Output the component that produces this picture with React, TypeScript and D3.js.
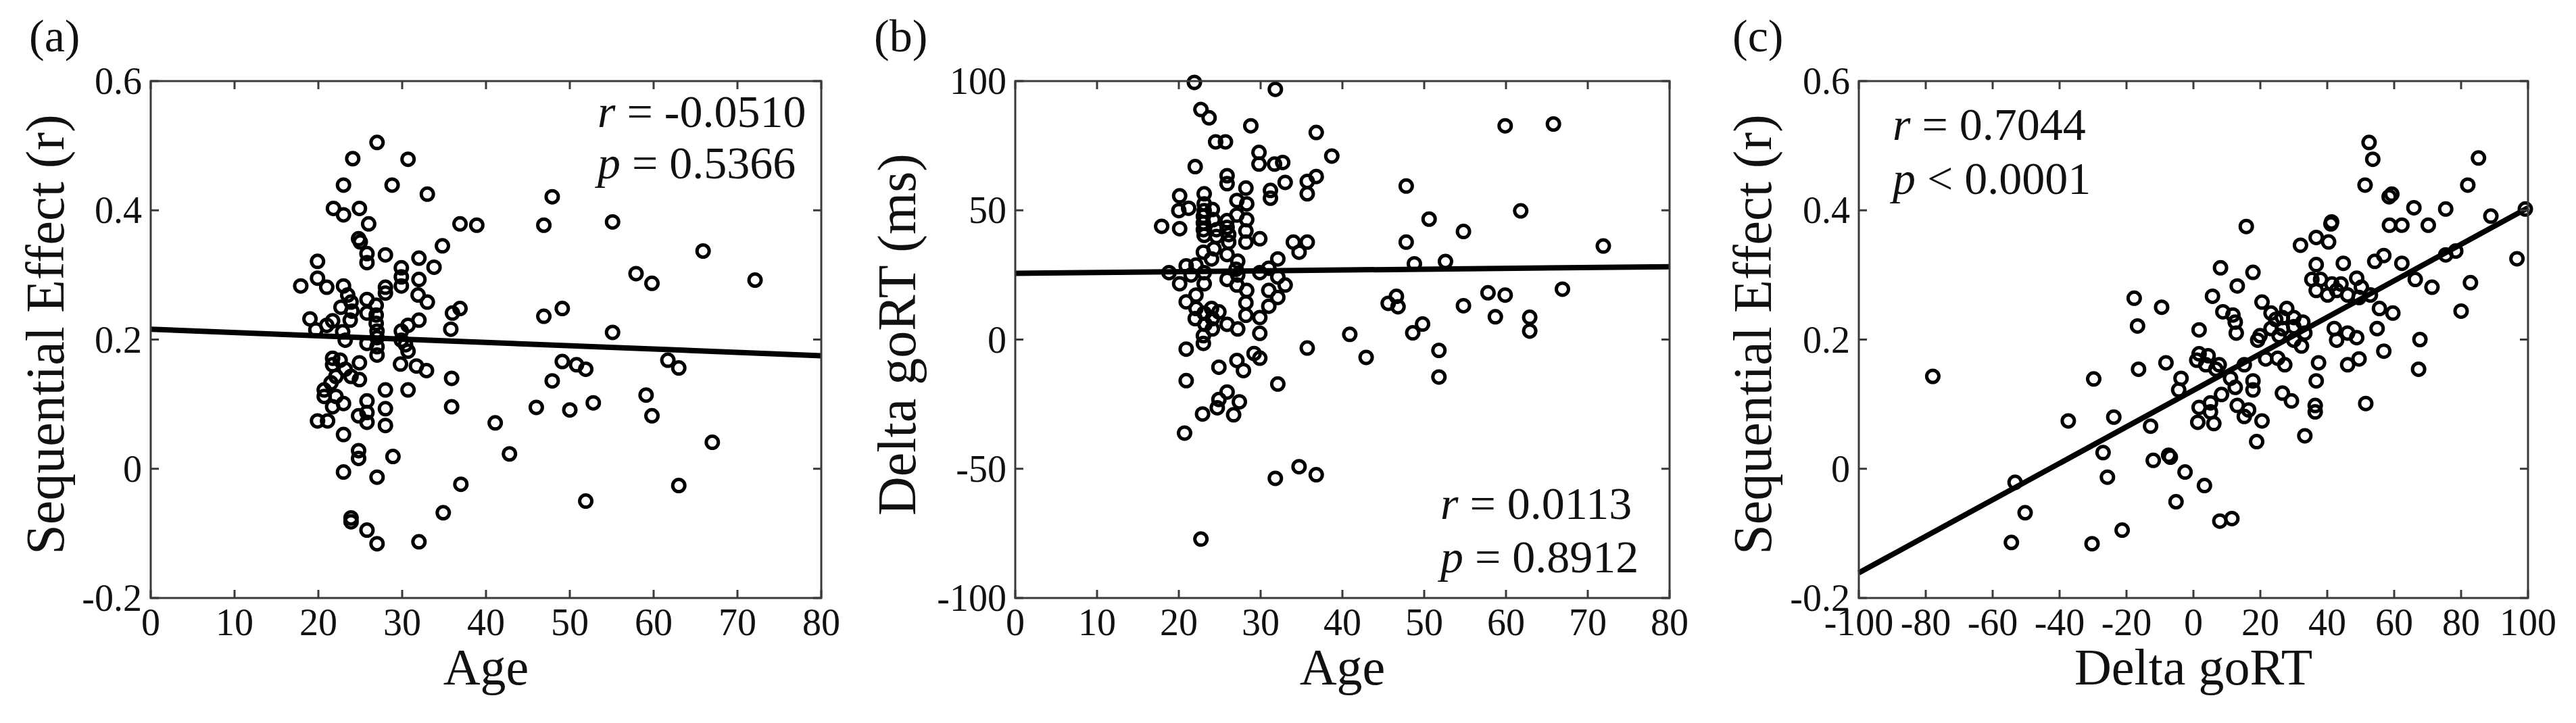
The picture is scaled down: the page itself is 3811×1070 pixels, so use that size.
import * as d3 from "d3";

/* ------------------------------------------------------------------ */
/*  Data                                        */
/* ------------------------------------------------------------------ */

const ageTicks = [0, 10, 20, 30, 40, 50, 60, 70, 80];
const seqTicks = [-0.2, 0, 0.2, 0.4, 0.6];
const rtTicks = [-100, -50, 0, 50, 100];
const rtAxisTicks = [-100, -80, -60, -40, -20, 0, 20, 40, 60, 80, 100];

/** (a) Age vs Sequential Effect (r) */
const ageVsSeq: [number, number][] = [
  [21.8, 0.403], [23.0, 0.393], [24.9, 0.403], [26.0, 0.379], [24.8, 0.356], [25.0, 0.351],
  [25.8, 0.333], [28.0, 0.331], [25.8, 0.319], [36.9, 0.379], [34.8, 0.345], [32.0, 0.326],
  [33.8, 0.312], [19.9, 0.321], [29.9, 0.311], [29.9, 0.297], [29.9, 0.283], [32.0, 0.293],
  [19.9, 0.295], [17.9, 0.283], [21.0, 0.281], [23.0, 0.283], [28.0, 0.281], [28.0, 0.272],
  [31.9, 0.269], [33.0, 0.258], [23.5, 0.269], [23.9, 0.258], [25.8, 0.262], [26.9, 0.253],
  [22.7, 0.25], [24.0, 0.244], [23.8, 0.23], [25.8, 0.241], [26.9, 0.238], [26.9, 0.225],
  [36.0, 0.241], [36.9, 0.248], [35.8, 0.216], [19.0, 0.232], [19.7, 0.215], [21.7, 0.229],
  [21.0, 0.222], [32.0, 0.23], [30.7, 0.222], [29.9, 0.213], [22.9, 0.212], [23.2, 0.199],
  [27.0, 0.213], [27.0, 0.203], [25.8, 0.194], [27.0, 0.189], [29.9, 0.199], [30.4, 0.192],
  [27.0, 0.176], [30.7, 0.182], [21.7, 0.171], [21.7, 0.161], [22.6, 0.168], [23.2, 0.154],
  [24.9, 0.164], [22.1, 0.143], [21.5, 0.133], [23.9, 0.143], [24.9, 0.138], [29.8, 0.162],
  [31.7, 0.159], [32.9, 0.152], [35.9, 0.14], [20.7, 0.122], [20.7, 0.112], [22.1, 0.112],
  [21.7, 0.096], [23.0, 0.101], [28.0, 0.122], [30.7, 0.122], [25.8, 0.105], [25.8, 0.087],
  [24.8, 0.082], [25.8, 0.072], [28.0, 0.093], [28.0, 0.067], [35.9, 0.096], [19.9, 0.074],
  [21.1, 0.074], [23.0, 0.053], [24.8, 0.028], [24.8, 0.016], [28.9, 0.019],
  [27.0, 0.505], [24.1, 0.48], [30.7, 0.479], [23.0, 0.439], [28.8, 0.439], [33.0, 0.425],
  [47.9, 0.421], [55.1, 0.382], [38.9, 0.377], [46.9, 0.377], [65.9, 0.337], [57.9, 0.302],
  [72.1, 0.292], [59.8, 0.287], [49.1, 0.248], [46.9, 0.236], [55.1, 0.211], [61.7, 0.168],
  [49.1, 0.166], [50.8, 0.161], [51.9, 0.154], [63.0, 0.156], [47.9, 0.136], [59.1, 0.114],
  [52.8, 0.102], [46.0, 0.095], [50.0, 0.091], [59.8, 0.082], [41.1, 0.071], [67.0, 0.041],
  [42.8, 0.023], [23.0, -0.005], [27.0, -0.013], [37.0, -0.024], [63.0, -0.026], [51.9, -0.05],
  [34.9, -0.068], [23.9, -0.076], [23.9, -0.082], [25.8, -0.095], [27.0, -0.116], [32.0, -0.113],
];

/** (b) Age vs Delta goRT (ms) */
const ageVsRt: [number, number][] = [
  [22.0, 66.9], [25.9, 63.4], [25.9, 60.3], [28.2, 58.6], [33.0, 60.8], [31.2, 57.7],
  [31.2, 54.7], [20.1, 55.6], [23.1, 56.4], [20.0, 49.9], [21.2, 50.8], [23.1, 52.5],
  [23.1, 49.9], [24.1, 50.3], [27.1, 53.8], [28.3, 52.5], [23.0, 47.7], [23.0, 45.1],
  [24.2, 46.4], [25.9, 46.0], [28.3, 46.4], [27.1, 48.2], [17.9, 43.8], [20.1, 42.9],
  [23.0, 42.5], [24.6, 42.5], [25.9, 43.4], [28.2, 42.0], [23.1, 40.3], [24.6, 39.9],
  [26.1, 40.6], [28.2, 37.7], [29.9, 39.0], [26.1, 37.7], [23.0, 33.8], [24.3, 35.1],
  [25.9, 32.9], [24.0, 31.2], [27.2, 30.3], [34.0, 37.7], [34.7, 33.8], [32.1, 31.2],
  [20.9, 28.5], [22.1, 28.8], [18.8, 25.9], [20.1, 21.6], [21.5, 25.0], [23.1, 25.9],
  [23.1, 21.6], [25.9, 23.3], [27.0, 27.2], [27.2, 25.0], [27.1, 21.1], [29.9, 25.9],
  [31.0, 27.6], [32.1, 24.2], [33.0, 21.1], [31.0, 19.0], [32.1, 16.3], [20.9, 14.6],
  [22.1, 17.2], [22.1, 12.0], [28.3, 19.0], [28.2, 14.2], [28.2, 9.4], [31.0, 12.9],
  [29.9, 8.5], [22.0, 8.1], [23.1, 10.2], [24.0, 12.0], [24.1, 8.1], [24.9, 10.7],
  [23.2, 5.9], [23.0, 1.5], [24.1, 4.1], [25.9, 5.9], [27.2, 4.1], [29.9, 2.4],
  [20.9, -3.7], [23.0, -1.5], [24.9, -10.7], [27.1, -8.1], [27.9, -12.0], [29.2, -5.4],
  [29.9, -7.2], [20.9, -15.9], [32.1, -17.2], [25.9, -20.3], [24.9, -23.2], [27.4, -24.1],
  [21.9, 99.5], [31.8, 96.8], [22.7, 89.0], [23.7, 85.8], [28.8, 82.7], [59.9, 82.7],
  [65.8, 83.4], [36.8, 80.1], [24.5, 76.5], [25.7, 76.5], [29.8, 72.4], [38.7, 71.0],
  [31.7, 67.9], [32.7, 68.5], [29.8, 67.9], [36.8, 63.1], [35.7, 61.2], [47.8, 59.4],
  [35.7, 56.4], [61.8, 49.8], [50.6, 46.6], [54.8, 41.8], [47.8, 37.7], [35.7, 37.7],
  [71.9, 36.2], [52.6, 30.2], [48.8, 29.3], [66.9, 19.5], [57.8, 18.1], [59.9, 17.2],
  [46.6, 16.7], [45.6, 14.0], [54.8, 13.1], [46.8, 12.7], [58.7, 8.8], [62.9, 8.6],
  [49.8, 6.0], [40.9, 2.0], [48.6, 2.6], [62.9, 3.3], [35.7, -3.3], [51.8, -4.2],
  [42.9, -6.9], [51.8, -14.5], [24.7, -26.4], [22.9, -28.8], [26.7, -29.1], [20.7, -36.2],
  [34.7, -49.2], [36.8, -52.3], [31.8, -53.7], [22.7, -77.2],
];

/** (c) Delta goRT vs Sequential Effect (r) */
const rtVsSeq: [number, number][] = [
  [15.8, 0.375], [32.0, 0.346], [36.7, 0.358], [40.4, 0.351], [41.1, 0.379], [58.6, 0.377],
  [62.3, 0.377], [8.1, 0.311], [17.8, 0.304], [13.1, 0.283], [5.7, 0.267], [36.7, 0.316],
  [44.8, 0.318], [54.2, 0.321], [56.9, 0.33], [62.3, 0.318], [66.3, 0.293], [35.4, 0.293],
  [38.0, 0.293], [36.7, 0.276], [41.4, 0.286], [44.1, 0.286], [42.8, 0.276], [40.1, 0.269],
  [46.1, 0.269], [48.8, 0.295], [50.2, 0.281], [49.5, 0.265], [52.9, 0.269], [55.6, 0.248],
  [59.6, 0.241], [20.5, 0.258], [8.8, 0.243], [11.8, 0.238], [12.5, 0.227], [12.8, 0.21],
  [1.7, 0.215], [23.2, 0.241], [27.9, 0.248], [24.6, 0.231], [26.6, 0.234], [30.0, 0.234],
  [23.2, 0.217], [26.6, 0.217], [30.0, 0.22], [32.7, 0.227], [33.3, 0.21], [25.6, 0.206],
  [30.0, 0.199], [32.3, 0.19], [19.9, 0.206], [19.2, 0.199], [42.1, 0.217], [42.8, 0.199],
  [46.1, 0.21], [48.8, 0.203], [54.9, 0.217], [56.9, 0.182], [67.7, 0.2], [1.7, 0.178],
  [4.4, 0.175], [1.0, 0.168], [3.7, 0.161], [6.7, 0.154], [7.7, 0.161], [-3.7, 0.14],
  [-4.4, 0.122], [15.2, 0.161], [11.1, 0.14], [12.5, 0.126], [17.8, 0.136], [17.8, 0.122],
  [21.6, 0.17], [25.2, 0.171], [27.3, 0.161], [37.4, 0.164], [46.1, 0.161], [49.5, 0.17],
  [67.3, 0.154], [36.7, 0.136], [26.6, 0.117], [29.3, 0.105], [8.4, 0.115], [5.1, 0.102],
  [1.7, 0.095], [5.1, 0.088], [13.1, 0.098], [16.5, 0.091], [15.2, 0.081], [20.5, 0.074],
  [1.3, 0.072], [6.1, 0.07], [36.4, 0.098], [36.4, 0.088], [51.5, 0.101], [33.3, 0.051],
  [18.9, 0.042],
  [52.5, 0.505], [53.6, 0.479], [85.2, 0.481], [51.3, 0.439], [82.0, 0.439], [59.3, 0.425],
  [58.5, 0.421], [65.9, 0.404], [75.4, 0.402], [99.2, 0.402], [88.9, 0.391], [41.3, 0.382],
  [70.2, 0.377], [78.4, 0.337], [75.4, 0.331], [96.7, 0.325], [82.8, 0.288], [71.3, 0.281],
  [-17.7, 0.264], [-9.5, 0.25], [80.0, 0.244], [-16.7, 0.221], [-8.2, 0.164], [-16.4, 0.154],
  [-77.9, 0.143], [-29.8, 0.139], [-23.8, 0.08], [-37.4, 0.074], [-12.8, 0.066], [-27.0, 0.025],
  [-7.4, 0.021], [-6.9, 0.018], [-12.0, 0.013], [-2.5, -0.005], [-25.7, -0.013], [-53.3, -0.021],
  [3.3, -0.026], [-50.3, -0.068], [-5.2, -0.051], [7.9, -0.081], [11.5, -0.077], [-21.3, -0.095],
  [-54.4, -0.114], [-30.3, -0.116],
];

/* Least-squares lines, endpoints */
const fitAgeSeq: [number, number][] = [[0, 0.216], [80, 0.175]];
const fitAgeRt: [number, number][] = [[0, 25.6], [80, 28.2]];
const fitRtSeq: [number, number][] = [[-100, -0.161], [100, 0.404]];

const statsAgeSeq = [["r", "=", "-0.0510"], ["p", "=", "0.5366"]];
const statsAgeRt = [["r", "=", "0.0113"], ["p", "=", "0.8912"]];
const statsRtSeq = [["r", "=", "0.7044"], ["p", "<", "0.0001"]];

/* ------------------------------------------------------------------ */
/*  Panel                                                             */
/* ------------------------------------------------------------------ */

const FONT = "Liberation Serif, DejaVu Serif, serif";
const INK = "#111";
const FRAME = "#3a3a3a";

interface PanelProps {
  left: number;
  right: number;
  top: number;
  bottom: number;
  xDomain: [number, number];
  yDomain: [number, number];
  xTicks: number[];
  yTicks: number[];
  points: [number, number][];
  fit: [number, number][];
  xTitle: string;
  yTitle: string;
  yTitleX: number;
  tag: string;
  tagX: number;
  stats: string[][];
  statX: number;
  statY: number[];
}

function Panel(p: PanelProps) {
  const x = d3.scaleLinear().domain(p.xDomain).range([p.left, p.right]);
  const y = d3.scaleLinear().domain(p.yDomain).range([p.bottom, p.top]);
  const line = d3
    .line<[number, number]>()
    .x((d) => x(d[0]))
    .y((d) => y(d[1]));
  const tickLen = 12;
  const midX = (p.left + p.right) / 2;
  const midY = 495;

  return (
    <g style={{ fontFamily: FONT }} fill={INK}>
      <text x={p.tagX} y={76} fontSize={68}>
        {p.tag}
      </text>

      {/* markers */}
      {p.points.map((d, i) => (
        <circle
          key={i}
          cx={x(d[0])}
          cy={y(d[1])}
          r={9}
          fill="none"
          stroke="#000"
          strokeWidth={5}
        />
      ))}

      {/* regression line */}
      <path d={line(p.fit) ?? ""} fill="none" stroke="#000" strokeWidth={8} />

      {/* frame */}
      <rect
        x={p.left}
        y={p.top}
        width={p.right - p.left}
        height={p.bottom - p.top}
        fill="none"
        stroke={FRAME}
        strokeWidth={3}
      />
      {p.xTicks.map((t) => (
        <g key={`x${t}`}>
          <line x1={x(t)} x2={x(t)} y1={p.bottom} y2={p.bottom - tickLen} stroke={FRAME} strokeWidth={3} />
          <line x1={x(t)} x2={x(t)} y1={p.top} y2={p.top + tickLen} stroke={FRAME} strokeWidth={3} />
          <text x={x(t)} y={p.bottom + 55} fontSize={56} textAnchor="middle">
            {String(t)}
          </text>
        </g>
      ))}
      {p.yTicks.map((t) => (
        <g key={`y${t}`}>
          <line x1={p.left} x2={p.left + tickLen} y1={y(t)} y2={y(t)} stroke={FRAME} strokeWidth={3} />
          <line x1={p.right} x2={p.right - tickLen} y1={y(t)} y2={y(t)} stroke={FRAME} strokeWidth={3} />
          <text x={p.left - 13} y={y(t)} dy="0.34em" fontSize={56} textAnchor="end">
            {String(t)}
          </text>
        </g>
      ))}

      {/* axis titles */}
      <text x={midX} y={1013} fontSize={76} textAnchor="middle">
        {p.xTitle}
      </text>
      <text
        transform={`translate(${p.yTitleX},${midY}) rotate(-90)`}
        fontSize={80}
        textAnchor="middle"
      >
        {p.yTitle}
      </text>

      {/* stats */}
      {p.stats.map((s, i) => (
        <text key={s[0]} x={p.statX} y={p.statY[i]} fontSize={68}>
          <tspan fontStyle="italic">{s[0]}</tspan>
          {` ${s[1]} ${s[2]}`}
        </text>
      ))}
    </g>
  );
}

/* ------------------------------------------------------------------ */
/*  App                                                               */
/* ------------------------------------------------------------------ */

export default function App() {
  const top = 120;
  const bottom = 885;
  return (
    <svg
      width={3811}
      height={1070}
      viewBox="0 0 3811 1070"
      style={{ position: "absolute", left: 0, top: 0, background: "#fff", display: "block" }}
    >
      <Panel
        left={223}
        right={1215}
        top={top}
        bottom={bottom}
        xDomain={[0, 80]}
        yDomain={[-0.2, 0.6]}
        xTicks={ageTicks}
        yTicks={seqTicks}
        points={ageVsSeq}
        fit={fitAgeSeq}
        xTitle="Age"
        yTitle="Sequential Effect (r)"
        yTitleX={94}
        tag="(a)"
        tagX={43}
        stats={statsAgeSeq}
        statX={884}
        statY={[188, 264]}
      />
      <Panel
        left={1502}
        right={2470}
        top={top}
        bottom={bottom}
        xDomain={[0, 80]}
        yDomain={[-100, 100]}
        xTicks={ageTicks}
        yTicks={rtTicks}
        points={ageVsRt}
        fit={fitAgeRt}
        xTitle="Age"
        yTitle="Delta goRT (ms)"
        yTitleX={1354}
        tag="(b)"
        tagX={1293}
        stats={statsAgeRt}
        statX={2131}
        statY={[768, 847]}
      />
      <Panel
        left={2750}
        right={3740}
        top={top}
        bottom={bottom}
        xDomain={[-100, 100]}
        yDomain={[-0.2, 0.6]}
        xTicks={rtAxisTicks}
        yTicks={seqTicks}
        points={rtVsSeq}
        fit={fitRtSeq}
        xTitle="Delta goRT"
        yTitle="Sequential Effect (r)"
        yTitleX={2620}
        tag="(c)"
        tagX={2563}
        stats={statsRtSeq}
        statX={2800}
        statY={[207, 287]}
      />
    </svg>
  );
}
